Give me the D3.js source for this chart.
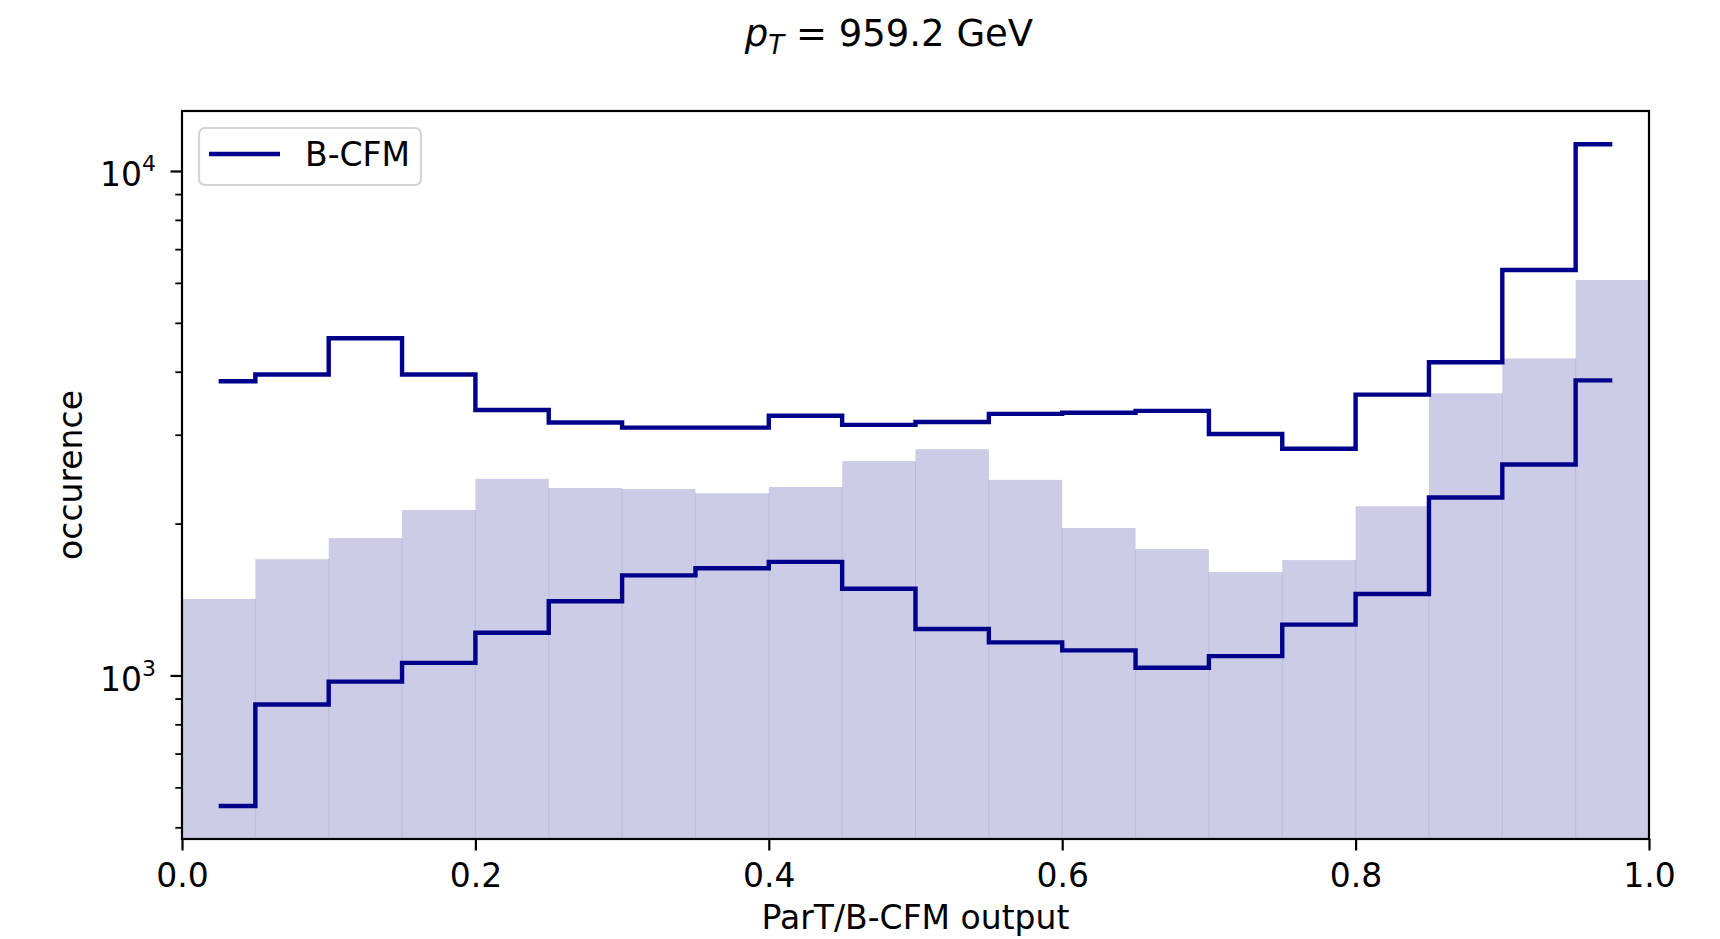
<!DOCTYPE html>
<html>
<head>
<meta charset="utf-8">
<script src="https://cdn.jsdelivr.net/npm/d3@7"></script>
<style>
  html, body { margin: 0; padding: 0; background: #ffffff; }
  svg { display: block; }
  text { font-family: "DejaVu Sans", sans-serif; fill: #000; }
</style>
</head>
<body>
<svg id="chart" width="1720" height="939"></svg>
<script>
// ---- data ----
const binCenters = [0.025, 0.075, 0.125, 0.175, 0.225, 0.275, 0.325, 0.375, 0.425, 0.475,
                    0.525, 0.575, 0.625, 0.675, 0.725, 0.775, 0.825, 0.875, 0.925, 0.975];
const binWidth = 0.05;
// filled histogram (ParT)
const parTCounts = [1418, 1700, 1872, 2128, 2453, 2353, 2342, 2297, 2364, 2660,
                    2809, 2442, 1960, 1780, 1603, 1693, 2165, 3625, 4251, 6081];
// B-CFM step lines (upper / lower band)
const bcfmUpper = [3829, 3949, 4660, 3949, 3360, 3173, 3099, 3099, 3272, 3138,
                   3180, 3300, 3316, 3345, 3011, 2815, 3603, 4178, 6365, 11300];
const bcfmLower = [551, 876, 972, 1059, 1215, 1403, 1579, 1631, 1679, 1485,
                   1236, 1163, 1121, 1036, 1092, 1261, 1450, 2253, 2619, 3845];
const xTickValues = [0.0, 0.2, 0.4, 0.6, 0.8, 1.0];
const xTickLabels = ["0.0", "0.2", "0.4", "0.6", "0.8", "1.0"];
const yTickExponents = [3, 4];
const yMinorTicks = [500, 600, 700, 800, 900, 2000, 3000, 4000, 5000, 6000, 7000, 8000, 9000];
const xDomain = [0, 1];
const yDomain = [474, 13150];
const titleMain = " = 959.2 GeV";
const xLabel = "ParT/B-CFM output";
const yLabel = "occurence";
const legendLabel = "B-CFM";

// ---- layout ----
const L = 182, R = 1649, T = 111, B = 839;
const lineColor = "#00008B";
const svg = d3.select("#chart");
svg.append("rect").attr("width", 1720).attr("height", 939).attr("fill", "#fff");

const x = d3.scaleLinear().domain(xDomain).range([L, R]);
const y = d3.scaleLog().domain(yDomain).range([B, T]);

svg.append("clipPath").attr("id", "clip")
  .append("rect").attr("x", L).attr("y", T).attr("width", R - L).attr("height", B - T);

const plot = svg.append("g").attr("clip-path", "url(#clip)");

// bars
plot.selectAll("rect.bar").data(binCenters).enter().append("rect")
  .attr("class", "bar")
  .attr("x", d => x(d - binWidth / 2))
  .attr("width", d => x(d + binWidth / 2) - x(d - binWidth / 2))
  .attr("y", (d, i) => y(parTCounts[i]))
  .attr("height", (d, i) => B + 5 - y(parTCounts[i]))
  .attr("fill", "#ccccE7");

// faint seams between bars
plot.selectAll("line.seam").data(binCenters.slice(1)).enter().append("line")
  .attr("x1", d => x(d - binWidth / 2)).attr("x2", d => x(d - binWidth / 2))
  .attr("y1", (d, i) => y(Math.min(parTCounts[i], parTCounts[i + 1])))
  .attr("y2", B)
  .attr("stroke", "#a8a8dc").attr("stroke-width", 1).attr("opacity", 0.6);

// step lines
const stepLine = d3.line()
  .x(d => x(d[0])).y(d => y(d[1]))
  .curve(d3.curveStep);
[bcfmUpper, bcfmLower].forEach(series => {
  plot.append("path")
    .datum(binCenters.map((c, i) => [c, series[i]]))
    .attr("d", stepLine)
    .attr("fill", "none")
    .attr("stroke", lineColor)
    .attr("stroke-width", 4.4)
    .attr("stroke-linejoin", "miter")
    .attr("stroke-linecap", "butt");
});

// ---- axes ----
const xAxis = d3.axisBottom(x).tickValues(xTickValues)
  .tickFormat((d, i) => xTickLabels[i]).tickSize(11.5).tickPadding(13);
const gx = svg.append("g").attr("transform", `translate(0,${B})`).call(xAxis);
gx.select(".domain").remove();
gx.selectAll(".tick line").attr("stroke", "#000").attr("stroke-width", 2.2);
gx.selectAll(".tick text").attr("font-size", 33).attr("font-family", "DejaVu Sans");

const yAxisMinor = d3.axisLeft(y).tickValues(yMinorTicks).tickFormat("").tickSize(6.7);
const gym = svg.append("g").attr("transform", `translate(${L},0)`).call(yAxisMinor);
gym.select(".domain").remove();
gym.selectAll(".tick line").attr("stroke", "#000").attr("stroke-width", 1.8);

const yAxis = d3.axisLeft(y).tickValues(yTickExponents.map(e => Math.pow(10, e)))
  .tickFormat("").tickSize(11.5).tickPadding(10);
const gy = svg.append("g").attr("transform", `translate(${L},0)`).call(yAxis);
gy.select(".domain").remove();
gy.selectAll(".tick line").attr("stroke", "#000").attr("stroke-width", 2.2);
gy.selectAll(".tick").each(function (d) {
  const t = d3.select(this).append("text")
    .attr("x", -26).attr("y", 15).attr("text-anchor", "end")
    .attr("font-family", "DejaVu Sans").attr("font-size", 33).attr("fill", "#000");
  t.append("tspan").text("10");
  t.append("tspan").attr("font-size", 22).attr("dy", -15).text(String(Math.round(Math.log10(d))));
});

// frame
svg.append("rect").attr("x", L).attr("y", T).attr("width", R - L).attr("height", B - T)
  .attr("fill", "none").attr("stroke", "#000").attr("stroke-width", 2.2);

// labels
svg.append("text").attr("x", (L + R) / 2).attr("y", 929).attr("text-anchor", "middle")
  .attr("font-size", 33).text(xLabel);
svg.append("text").attr("transform", `translate(82,${(T + B) / 2}) rotate(-90)`)
  .attr("text-anchor", "middle").attr("font-size", 33).text(yLabel);

// title
const title = svg.append("text").attr("x", 889).attr("y", 46).attr("text-anchor", "middle")
  .attr("font-size", 37);
title.append("tspan").attr("font-style", "italic").text("p");
title.append("tspan").attr("font-style", "italic").attr("font-size", 26).attr("dy", 8).text("T");
title.append("tspan").attr("dy", -8).text(titleMain);

// legend
const lg = svg.append("g");
lg.append("rect").attr("x", 199).attr("y", 128).attr("width", 222).attr("height", 57)
  .attr("rx", 6).attr("ry", 6).attr("fill", "#fff").attr("fill-opacity", 0.8)
  .attr("stroke", "#d4d4d4").attr("stroke-width", 2.2);
lg.append("line").attr("x1", 209).attr("x2", 280).attr("y1", 154).attr("y2", 154)
  .attr("stroke", lineColor).attr("stroke-width", 4.4);
lg.append("text").attr("x", 305).attr("y", 166).attr("font-size", 33).text(legendLabel);
</script>
</body>
</html>
